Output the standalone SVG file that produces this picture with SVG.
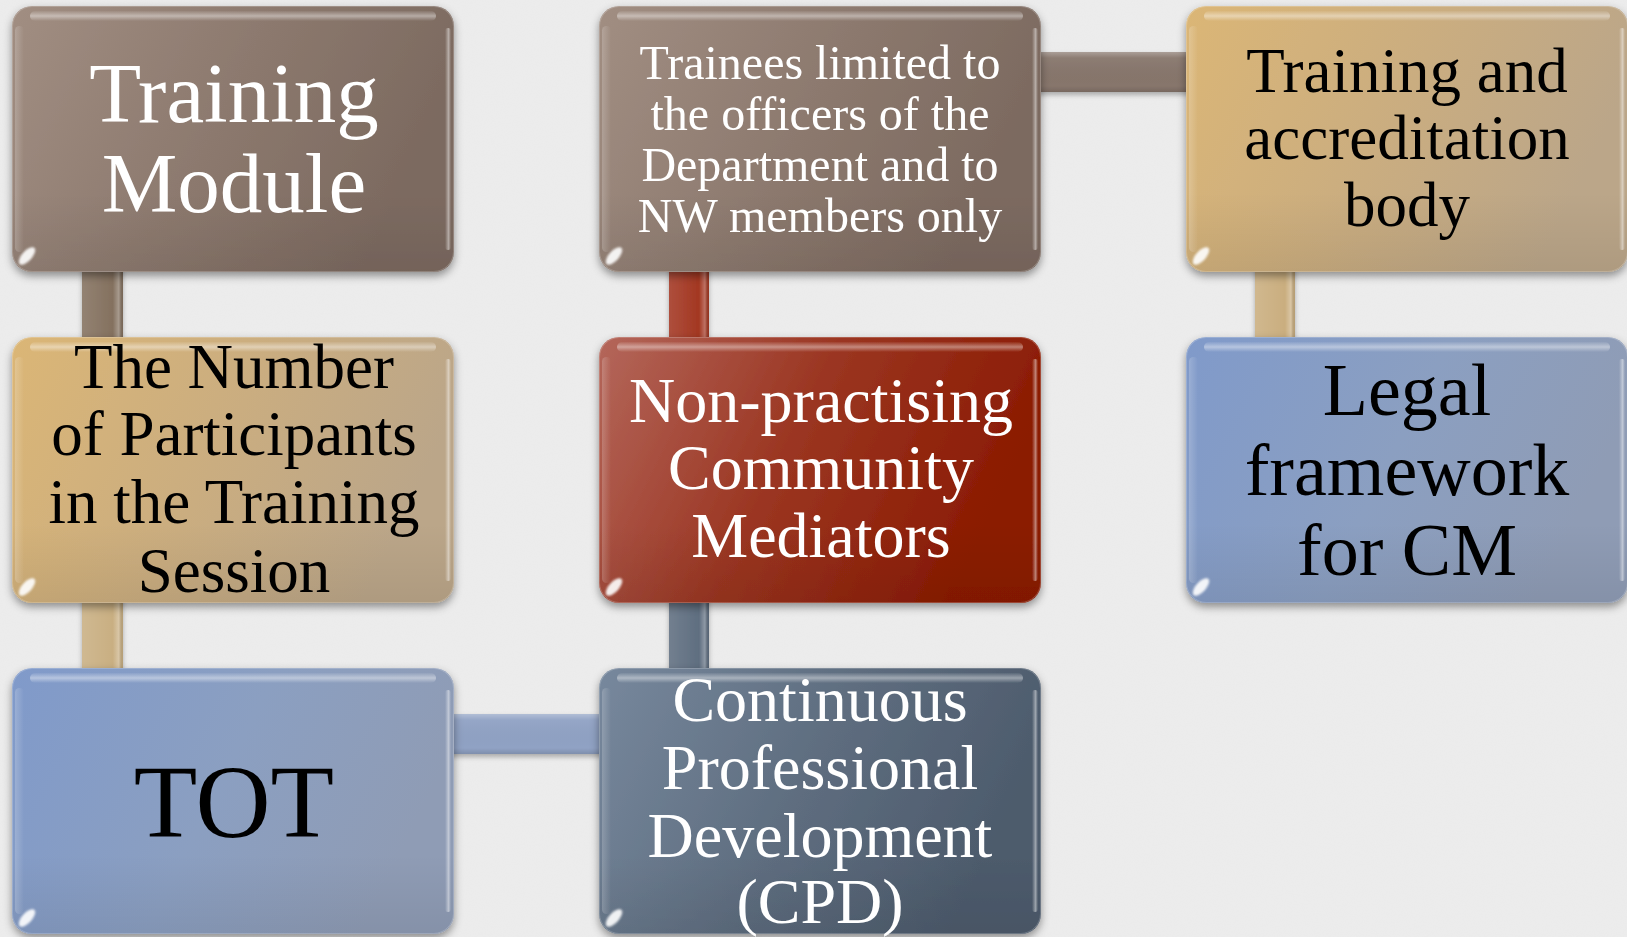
<svg xmlns="http://www.w3.org/2000/svg" xmlns:xlink="http://www.w3.org/1999/xlink" width="1627" height="937" viewBox="0 0 1627 937">
  <defs>
    <style>
      .lbl { font-family: "Liberation Serif", "Times New Roman", serif; text-anchor: middle; }
      .w { fill: #ffffff; }
      .k { fill: #000000; }
      .box { filter: url(#shadow); }
    </style>

    <!-- paper texture for the backdrop -->
    <filter id="paper" x="0" y="0" width="100%" height="100%">
      <feTurbulence type="fractalNoise" baseFrequency="0.9" numOctaves="2" seed="3" result="n"/>
      <feColorMatrix in="n" type="matrix" values="0 0 0 0 0.6  0 0 0 0 0.6  0 0 0 0 0.6  0 0 0 0.08 0"/>
    </filter>

    <filter id="shadow" x="-10%" y="-10%" width="120%" height="125%">
      <feDropShadow dx="0" dy="4" stdDeviation="4" flood-color="#000" flood-opacity="0.4"/>
    </filter>
    <filter id="soft" x="-50%" y="-50%" width="200%" height="200%">
      <feGaussianBlur stdDeviation="1.3"/>
    </filter>
    <filter id="barShadow" x="-20%" y="-20%" width="140%" height="160%">
      <feDropShadow dx="0" dy="3" stdDeviation="2.5" flood-color="#000" flood-opacity="0.28"/>
    </filter>

    <!-- box fills -->
    <linearGradient id="gBrown" x1="0" y1="0" x2="1" y2="0.3">
      <stop offset="0" stop-color="#a18e82"/>
      <stop offset="0.55" stop-color="#8c796e"/>
      <stop offset="1" stop-color="#7c6a60"/>
    </linearGradient>
    <linearGradient id="gTan" x1="0" y1="0" x2="1" y2="0.3">
      <stop offset="0" stop-color="#dbb676"/>
      <stop offset="0.55" stop-color="#caad80"/>
      <stop offset="1" stop-color="#bba689"/>
    </linearGradient>
    <linearGradient id="gRed" x1="0" y1="0" x2="1" y2="0.3">
      <stop offset="0" stop-color="#b4675b"/>
      <stop offset="0.5" stop-color="#9b3622"/>
      <stop offset="1" stop-color="#8b1b02"/>
    </linearGradient>
    <linearGradient id="gBlue" x1="0" y1="0" x2="1" y2="0.3">
      <stop offset="0" stop-color="#809aca"/>
      <stop offset="0.55" stop-color="#8b9fc1"/>
      <stop offset="1" stop-color="#8f9cb5"/>
    </linearGradient>
    <linearGradient id="gSlate" x1="0" y1="0" x2="1" y2="0.3">
      <stop offset="0" stop-color="#77889d"/>
      <stop offset="0.55" stop-color="#5e6d7f"/>
      <stop offset="1" stop-color="#4d5b6c"/>
    </linearGradient>

    <!-- gloss pieces -->
    <linearGradient id="topShine" x1="0" y1="0" x2="0" y2="1">
      <stop offset="0" stop-color="#fff" stop-opacity="0.05"/>
      <stop offset="0.5" stop-color="#fff" stop-opacity="0.42"/>
      <stop offset="1" stop-color="#fff" stop-opacity="0"/>
    </linearGradient>
    <linearGradient id="rightShine" x1="0" y1="0" x2="1" y2="0">
      <stop offset="0" stop-color="#fff" stop-opacity="0"/>
      <stop offset="0.6" stop-color="#fff" stop-opacity="0.45"/>
      <stop offset="1" stop-color="#fff" stop-opacity="0"/>
    </linearGradient>
    <linearGradient id="leftShine" x1="0" y1="0" x2="1" y2="0">
      <stop offset="0" stop-color="#fff" stop-opacity="0.2"/>
      <stop offset="1" stop-color="#fff" stop-opacity="0"/>
    </linearGradient>
    <linearGradient id="bottomShade" x1="0" y1="0" x2="0" y2="1">
      <stop offset="0.7" stop-color="#000" stop-opacity="0"/>
      <stop offset="1" stop-color="#000" stop-opacity="0.07"/>
    </linearGradient>

    <!-- bar shading (vertical / horizontal connectors) -->
    <linearGradient id="vBarSheen" x1="0" y1="0" x2="1" y2="0">
      <stop offset="0" stop-color="#fff" stop-opacity="0.12"/>
      <stop offset="0.75" stop-color="#fff" stop-opacity="0"/>
      <stop offset="0.9" stop-color="#fff" stop-opacity="0.3"/>
      <stop offset="1" stop-color="#000" stop-opacity="0.08"/>
    </linearGradient>
    <linearGradient id="hBarSheen" x1="0" y1="0" x2="0" y2="1">
      <stop offset="0" stop-color="#fff" stop-opacity="0.3"/>
      <stop offset="0.15" stop-color="#fff" stop-opacity="0.05"/>
      <stop offset="0.85" stop-color="#000" stop-opacity="0"/>
      <stop offset="1" stop-color="#000" stop-opacity="0.12"/>
    </linearGradient>

    <!-- shared bevel overlay for a 442 x 266 box -->
    <g id="gloss">
      <rect x="0" y="0" width="442" height="266" rx="20" fill="url(#bottomShade)"/>
      <rect x="18" y="5" width="406" height="10" rx="5" fill="url(#topShine)"/>
      <rect x="3" y="20" width="9" height="226" rx="4.5" fill="url(#leftShine)"/>
      <rect x="433" y="22" width="6" height="222" rx="3" fill="url(#rightShine)"/>
      <ellipse cx="15" cy="250" rx="11" ry="5" transform="rotate(-48 15 250)" fill="#fff" opacity="0.9" filter="url(#soft)"/>
      <rect x="0.5" y="0.5" width="441" height="265" rx="20" fill="none" stroke="#fff" stroke-opacity="0.2"/>
    </g>
  </defs>

  <!-- backdrop -->
  <rect width="1627" height="937" fill="#ededed"/>
  <rect width="1627" height="937" filter="url(#paper)"/>

  <!-- connecting bars, drawn beneath the boxes -->
  <g id="connectors" filter="url(#barShadow)">
    <rect x="82" y="255" width="41" height="100" fill="#84715f"/>
    <rect x="82" y="255" width="41" height="100" fill="url(#vBarSheen)"/>
    <rect x="82" y="585" width="41" height="100" fill="#c9af82"/>
    <rect x="82" y="585" width="41" height="100" fill="url(#vBarSheen)"/>
    <rect x="669" y="255" width="40" height="100" fill="#a33722"/>
    <rect x="669" y="255" width="40" height="100" fill="url(#vBarSheen)"/>
    <rect x="669" y="585" width="40" height="100" fill="#5f6e80"/>
    <rect x="669" y="585" width="40" height="100" fill="url(#vBarSheen)"/>
    <rect x="1255" y="255" width="40" height="100" fill="#caae7f"/>
    <rect x="1255" y="255" width="40" height="100" fill="url(#vBarSheen)"/>
    <rect x="1025" y="52" width="175" height="40" fill="#87766c"/>
    <rect x="1025" y="52" width="175" height="40" fill="url(#hBarSheen)"/>
    <rect x="440" y="714" width="175" height="40" fill="#90a2c4"/>
    <rect x="440" y="714" width="175" height="40" fill="url(#hBarSheen)"/>
  </g>

  <g id="node-training-module" class="box">
    <rect x="12" y="6" width="442" height="266" rx="20" fill="url(#gBrown)"/>
    <use xlink:href="#gloss" transform="translate(12 6)"/>
    <text class="lbl w" font-size="85"><tspan x="234" y="122">Training</tspan><tspan x="234" y="212">Module</tspan></text>
  </g>

  <g id="node-trainees" class="box">
    <rect x="599" y="6" width="442" height="266" rx="20" fill="url(#gBrown)"/>
    <use xlink:href="#gloss" transform="translate(599 6)"/>
    <text class="lbl w" font-size="48"><tspan x="820" y="79">Trainees limited to</tspan><tspan x="820" y="130">the officers of the</tspan><tspan x="820" y="181">Department and to</tspan><tspan x="820" y="232">NW members only</tspan></text>
  </g>

  <g id="node-accreditation" class="box">
    <rect x="1186" y="6" width="442" height="266" rx="20" fill="url(#gTan)"/>
    <use xlink:href="#gloss" transform="translate(1186 6)"/>
    <text class="lbl k" font-size="63"><tspan x="1407" y="92">Training and</tspan><tspan x="1407" y="159">accreditation</tspan><tspan x="1407" y="226">body</tspan></text>
  </g>

  <g id="node-participants" class="box">
    <rect x="12" y="337" width="442" height="266" rx="20" fill="url(#gTan)"/>
    <use xlink:href="#gloss" transform="translate(12 337)"/>
    <text class="lbl k" font-size="63"><tspan x="234" y="388">The Number</tspan><tspan x="234" y="455">of Participants</tspan><tspan x="234" y="523">in the Training</tspan><tspan x="234" y="592">Session</tspan></text>
  </g>

  <g id="node-mediators" class="box">
    <rect x="599" y="337" width="442" height="266" rx="20" fill="url(#gRed)"/>
    <use xlink:href="#gloss" transform="translate(599 337)"/>
    <text class="lbl w" font-size="64"><tspan x="821" y="422">Non-practising</tspan><tspan x="821" y="489">Community</tspan><tspan x="821" y="557">Mediators</tspan></text>
  </g>

  <g id="node-legal" class="box">
    <rect x="1186" y="337" width="442" height="266" rx="20" fill="url(#gBlue)"/>
    <use xlink:href="#gloss" transform="translate(1186 337)"/>
    <text class="lbl k" font-size="74"><tspan x="1407" y="415">Legal</tspan><tspan x="1407" y="495">framework</tspan><tspan x="1407" y="575">for CM</tspan></text>
  </g>

  <g id="node-tot" class="box">
    <rect x="12" y="668" width="442" height="266" rx="20" fill="url(#gBlue)"/>
    <use xlink:href="#gloss" transform="translate(12 668)"/>
    <text class="lbl k" font-size="104" x="234" y="837">TOT</text>
  </g>

  <g id="node-cpd" class="box">
    <rect x="599" y="668" width="442" height="266" rx="20" fill="url(#gSlate)"/>
    <use xlink:href="#gloss" transform="translate(599 668)"/>
    <text class="lbl w" font-size="64"><tspan x="820" y="721">Continuous</tspan><tspan x="820" y="789">Professional</tspan><tspan x="820" y="857">Development</tspan><tspan x="820" y="923">(CPD)</tspan></text>
  </g>
</svg>
